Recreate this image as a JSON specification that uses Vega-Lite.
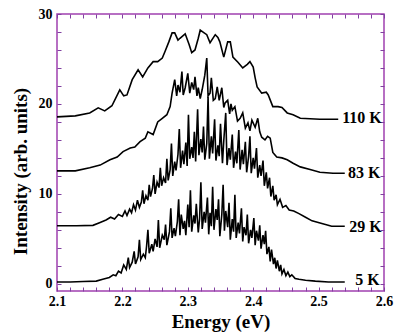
{
  "$schema": "https://vega.github.io/schema/vega-lite/v6.json",
  "autosize": "none",
  "width": 327,
  "height": 277,
  "padding": {"left": 57, "top": 14, "right": 12, "bottom": 43},
  "background": "white",
  "config": {
    "view": {"stroke": "#a040b0", "strokeWidth": 1.5},
    "axis": {
      "domain": false, "grid": false,
      "labelFont": "Liberation Serif", "labelFontWeight": "bold", "labelFontSize": 14, "labelColor": "black",
      "titleFont": "Liberation Serif", "titleFontWeight": "bold", "titleFontSize": 19, "titleColor": "black",
      "tickColor": "#8040a0", "tickSize": -4, "tickWidth": 1,
      "labelOverlap": false, "labelBound": false, "labelFlush": false
    }
  },
  "datasets": {
    "labels": [
      {"e": 2.536, "i": 18.4, "t": "110 K"},
      {"e": 2.545, "i": 12.3, "t": "83 K"},
      {"e": 2.547, "i": 6.3, "t": "29 K"},
      {"e": 2.556, "i": 0.4, "t": "5 K"}
    ]
  },
  "data": {"values": [
    {"e":2.100,"i":18.56,"t":"110 K"},{"e":2.128,"i":18.67,"t":"110 K"},{"e":2.150,"i":19.0,"t":"110 K"},{"e":2.163,"i":19.56,"t":"110 K"},{"e":2.173,"i":19.22,"t":"110 K"},{"e":2.184,"i":19.8,"t":"110 K"},{"e":2.196,"i":21.56,"t":"110 K"},{"e":2.202,"i":20.9,"t":"110 K"},{"e":2.207,"i":21.0,"t":"110 K"},{"e":2.215,"i":22.7,"t":"110 K"},{"e":2.224,"i":23.8,"t":"110 K"},{"e":2.231,"i":23.0,"t":"110 K"},{"e":2.239,"i":24.0,"t":"110 K"},{"e":2.247,"i":24.7,"t":"110 K"},{"e":2.254,"i":24.7,"t":"110 K"},{"e":2.261,"i":25.1,"t":"110 K"},{"e":2.265,"i":25.8,"t":"110 K"},{"e":2.271,"i":26.9,"t":"110 K"},{"e":2.276,"i":27.9,"t":"110 K"},{"e":2.280,"i":27.9,"t":"110 K"},{"e":2.285,"i":27.1,"t":"110 K"},{"e":2.288,"i":27.3,"t":"110 K"},{"e":2.296,"i":27.8,"t":"110 K"},{"e":2.302,"i":26.6,"t":"110 K"},{"e":2.306,"i":25.7,"t":"110 K"},{"e":2.311,"i":26.0,"t":"110 K"},{"e":2.316,"i":27.3,"t":"110 K"},{"e":2.319,"i":28.2,"t":"110 K"},{"e":2.325,"i":27.9,"t":"110 K"},{"e":2.329,"i":27.7,"t":"110 K"},{"e":2.334,"i":26.8,"t":"110 K"},{"e":2.342,"i":27.7,"t":"110 K"},{"e":2.346,"i":27.4,"t":"110 K"},{"e":2.349,"i":26.9,"t":"110 K"},{"e":2.355,"i":25.2,"t":"110 K"},{"e":2.361,"i":26.9,"t":"110 K"},{"e":2.365,"i":26.9,"t":"110 K"},{"e":2.369,"i":25.2,"t":"110 K"},{"e":2.377,"i":24.6,"t":"110 K"},{"e":2.384,"i":24.0,"t":"110 K"},{"e":2.391,"i":24.4,"t":"110 K"},{"e":2.395,"i":24.7,"t":"110 K"},{"e":2.400,"i":24.1,"t":"110 K"},{"e":2.403,"i":22.9,"t":"110 K"},{"e":2.406,"i":21.9,"t":"110 K"},{"e":2.413,"i":21.2,"t":"110 K"},{"e":2.420,"i":21.3,"t":"110 K"},{"e":2.423,"i":21.0,"t":"110 K"},{"e":2.430,"i":19.7,"t":"110 K"},{"e":2.438,"i":19.7,"t":"110 K"},{"e":2.444,"i":19.6,"t":"110 K"},{"e":2.452,"i":19.0,"t":"110 K"},{"e":2.461,"i":18.8,"t":"110 K"},{"e":2.472,"i":18.4,"t":"110 K"},{"e":2.502,"i":18.3,"t":"110 K"},{"e":2.530,"i":18.3,"t":"110 K"},

    {"e":2.100,"i":12.56,"t":"83 K"},{"e":2.128,"i":12.56,"t":"83 K"},{"e":2.150,"i":12.9,"t":"83 K"},{"e":2.166,"i":13.2,"t":"83 K"},{"e":2.181,"i":13.8,"t":"83 K"},{"e":2.192,"i":14.1,"t":"83 K"},{"e":2.201,"i":14.7,"t":"83 K"},{"e":2.212,"i":15.1,"t":"83 K"},{"e":2.219,"i":15.2,"t":"83 K"},{"e":2.227,"i":15.8,"t":"83 K"},{"e":2.235,"i":16.2,"t":"83 K"},{"e":2.239,"i":16.9,"t":"83 K"},{"e":2.247,"i":16.6,"t":"83 K"},{"e":2.254,"i":18.0,"t":"83 K"},{"e":2.261,"i":18.4,"t":"83 K"},{"e":2.268,"i":18.8,"t":"83 K"},{"e":2.273,"i":19.7,"t":"83 K"},{"e":2.276,"i":21.2,"t":"83 K"},{"e":2.280,"i":22.7,"t":"83 K"},{"e":2.283,"i":20.9,"t":"83 K"},{"e":2.285,"i":22.1,"t":"83 K"},{"e":2.288,"i":21.3,"t":"83 K"},{"e":2.291,"i":23.6,"t":"83 K"},{"e":2.293,"i":21.0,"t":"83 K"},{"e":2.296,"i":21.8,"t":"83 K"},{"e":2.300,"i":23.4,"t":"83 K"},{"e":2.303,"i":21.2,"t":"83 K"},{"e":2.306,"i":22.4,"t":"83 K"},{"e":2.309,"i":21.6,"t":"83 K"},{"e":2.311,"i":23.0,"t":"83 K"},{"e":2.314,"i":20.9,"t":"83 K"},{"e":2.316,"i":21.8,"t":"83 K"},{"e":2.319,"i":20.6,"t":"83 K"},{"e":2.322,"i":21.6,"t":"83 K"},{"e":2.326,"i":23.2,"t":"83 K"},{"e":2.329,"i":25.1,"t":"83 K"},{"e":2.331,"i":20.9,"t":"83 K"},{"e":2.334,"i":21.2,"t":"83 K"},{"e":2.336,"i":22.9,"t":"83 K"},{"e":2.339,"i":20.4,"t":"83 K"},{"e":2.342,"i":20.6,"t":"83 K"},{"e":2.345,"i":21.9,"t":"83 K"},{"e":2.348,"i":20.4,"t":"83 K"},{"e":2.352,"i":21.8,"t":"83 K"},{"e":2.355,"i":19.6,"t":"83 K"},{"e":2.357,"i":20.1,"t":"83 K"},{"e":2.361,"i":20.4,"t":"83 K"},{"e":2.364,"i":18.9,"t":"83 K"},{"e":2.366,"i":20.0,"t":"83 K"},{"e":2.368,"i":19.3,"t":"83 K"},{"e":2.372,"i":19.7,"t":"83 K"},{"e":2.376,"i":18.1,"t":"83 K"},{"e":2.380,"i":18.4,"t":"83 K"},{"e":2.384,"i":19.0,"t":"83 K"},{"e":2.388,"i":17.3,"t":"83 K"},{"e":2.392,"i":17.9,"t":"83 K"},{"e":2.395,"i":17.0,"t":"83 K"},{"e":2.398,"i":18.2,"t":"83 K"},{"e":2.403,"i":17.4,"t":"83 K"},{"e":2.407,"i":18.4,"t":"83 K"},{"e":2.410,"i":16.9,"t":"83 K"},{"e":2.413,"i":16.3,"t":"83 K"},{"e":2.418,"i":16.0,"t":"83 K"},{"e":2.422,"i":16.4,"t":"83 K"},{"e":2.426,"i":16.2,"t":"83 K"},{"e":2.430,"i":14.6,"t":"83 K"},{"e":2.436,"i":14.1,"t":"83 K"},{"e":2.444,"i":14.0,"t":"83 K"},{"e":2.452,"i":13.8,"t":"83 K"},{"e":2.461,"i":13.4,"t":"83 K"},{"e":2.472,"i":13.0,"t":"83 K"},{"e":2.487,"i":12.7,"t":"83 K"},{"e":2.502,"i":12.4,"t":"83 K"},{"e":2.522,"i":12.3,"t":"83 K"},{"e":2.540,"i":12.3,"t":"83 K"},

    {"e":2.100,"i":6.45,"t":"29 K"},{"e":2.130,"i":6.45,"t":"29 K"},{"e":2.155,"i":6.5,"t":"29 K"},{"e":2.165,"i":6.8,"t":"29 K"},{"e":2.175,"i":7.1,"t":"29 K"},{"e":2.182,"i":7.4,"t":"29 K"},{"e":2.188,"i":7.2,"t":"29 K"},{"e":2.194,"i":7.7,"t":"29 K"},{"e":2.200,"i":7.5,"t":"29 K"},{"e":2.204,"i":8.1,"t":"29 K"},{"e":2.207,"i":7.6,"t":"29 K"},{"e":2.211,"i":8.3,"t":"29 K"},{"e":2.214,"i":7.9,"t":"29 K"},{"e":2.217,"i":8.8,"t":"29 K"},{"e":2.220,"i":8.2,"t":"29 K"},{"e":2.223,"i":9.3,"t":"29 K"},{"e":2.226,"i":8.5,"t":"29 K"},{"e":2.229,"i":9.1,"t":"29 K"},{"e":2.231,"i":10.4,"t":"29 K"},{"e":2.233,"i":8.9,"t":"29 K"},{"e":2.236,"i":9.8,"t":"29 K"},{"e":2.239,"i":9.3,"t":"29 K"},{"e":2.241,"i":11.0,"t":"29 K"},{"e":2.243,"i":9.7,"t":"29 K"},{"e":2.246,"i":10.6,"t":"29 K"},{"e":2.248,"i":12.1,"t":"29 K"},{"e":2.250,"i":10.0,"t":"29 K"},{"e":2.253,"i":11.3,"t":"29 K"},{"e":2.256,"i":10.7,"t":"29 K"},{"e":2.258,"i":12.9,"t":"29 K"},{"e":2.260,"i":10.9,"t":"29 K"},{"e":2.263,"i":11.8,"t":"29 K"},{"e":2.266,"i":11.2,"t":"29 K"},{"e":2.268,"i":13.9,"t":"29 K"},{"e":2.270,"i":11.5,"t":"29 K"},{"e":2.273,"i":12.7,"t":"29 K"},{"e":2.275,"i":15.6,"t":"29 K"},{"e":2.277,"i":12.0,"t":"29 K"},{"e":2.280,"i":13.6,"t":"29 K"},{"e":2.282,"i":12.6,"t":"29 K"},{"e":2.285,"i":14.4,"t":"29 K"},{"e":2.287,"i":17.2,"t":"29 K"},{"e":2.289,"i":12.9,"t":"29 K"},{"e":2.292,"i":14.8,"t":"29 K"},{"e":2.294,"i":13.3,"t":"29 K"},{"e":2.297,"i":15.7,"t":"29 K"},{"e":2.299,"i":13.1,"t":"29 K"},{"e":2.301,"i":18.8,"t":"29 K"},{"e":2.303,"i":13.9,"t":"29 K"},{"e":2.306,"i":15.2,"t":"29 K"},{"e":2.308,"i":14.0,"t":"29 K"},{"e":2.310,"i":16.9,"t":"29 K"},{"e":2.312,"i":13.6,"t":"29 K"},{"e":2.315,"i":19.4,"t":"29 K"},{"e":2.317,"i":14.3,"t":"29 K"},{"e":2.320,"i":16.1,"t":"29 K"},{"e":2.322,"i":14.6,"t":"29 K"},{"e":2.324,"i":17.5,"t":"29 K"},{"e":2.326,"i":13.8,"t":"29 K"},{"e":2.329,"i":15.6,"t":"29 K"},{"e":2.331,"i":20.8,"t":"29 K"},{"e":2.333,"i":13.9,"t":"29 K"},{"e":2.336,"i":16.4,"t":"29 K"},{"e":2.338,"i":14.5,"t":"29 K"},{"e":2.341,"i":18.3,"t":"29 K"},{"e":2.343,"i":13.7,"t":"29 K"},{"e":2.346,"i":15.4,"t":"29 K"},{"e":2.348,"i":14.2,"t":"29 K"},{"e":2.350,"i":17.8,"t":"29 K"},{"e":2.353,"i":13.4,"t":"29 K"},{"e":2.355,"i":15.9,"t":"29 K"},{"e":2.358,"i":19.0,"t":"29 K"},{"e":2.360,"i":13.2,"t":"29 K"},{"e":2.363,"i":15.1,"t":"29 K"},{"e":2.365,"i":13.8,"t":"29 K"},{"e":2.368,"i":16.6,"t":"29 K"},{"e":2.370,"i":12.9,"t":"29 K"},{"e":2.373,"i":14.7,"t":"29 K"},{"e":2.375,"i":13.4,"t":"29 K"},{"e":2.378,"i":17.1,"t":"29 K"},{"e":2.380,"i":12.7,"t":"29 K"},{"e":2.383,"i":14.9,"t":"29 K"},{"e":2.385,"i":13.3,"t":"29 K"},{"e":2.388,"i":15.8,"t":"29 K"},{"e":2.390,"i":12.4,"t":"29 K"},{"e":2.393,"i":14.2,"t":"29 K"},{"e":2.395,"i":16.4,"t":"29 K"},{"e":2.397,"i":12.3,"t":"29 K"},{"e":2.400,"i":14.0,"t":"29 K"},{"e":2.402,"i":12.8,"t":"29 K"},{"e":2.405,"i":15.1,"t":"29 K"},{"e":2.407,"i":11.8,"t":"29 K"},{"e":2.410,"i":13.2,"t":"29 K"},{"e":2.412,"i":12.0,"t":"29 K"},{"e":2.415,"i":13.7,"t":"29 K"},{"e":2.417,"i":10.9,"t":"29 K"},{"e":2.420,"i":12.4,"t":"29 K"},{"e":2.422,"i":10.6,"t":"29 K"},{"e":2.425,"i":11.8,"t":"29 K"},{"e":2.427,"i":9.7,"t":"29 K"},{"e":2.430,"i":10.9,"t":"29 K"},{"e":2.432,"i":9.3,"t":"29 K"},{"e":2.435,"i":9.9,"t":"29 K"},{"e":2.437,"i":8.8,"t":"29 K"},{"e":2.441,"i":9.4,"t":"29 K"},{"e":2.445,"i":8.5,"t":"29 K"},{"e":2.450,"i":8.7,"t":"29 K"},{"e":2.455,"i":8.2,"t":"29 K"},{"e":2.462,"i":8.1,"t":"29 K"},{"e":2.470,"i":7.8,"t":"29 K"},{"e":2.480,"i":7.4,"t":"29 K"},{"e":2.490,"i":7.0,"t":"29 K"},{"e":2.505,"i":6.7,"t":"29 K"},{"e":2.520,"i":6.4,"t":"29 K"},{"e":2.540,"i":6.4,"t":"29 K"},

    {"e":2.100,"i":0.2,"t":"5 K"},{"e":2.120,"i":0.2,"t":"5 K"},{"e":2.140,"i":0.25,"t":"5 K"},{"e":2.160,"i":0.3,"t":"5 K"},{"e":2.170,"i":0.5,"t":"5 K"},{"e":2.180,"i":0.7,"t":"5 K"},{"e":2.186,"i":1.0,"t":"5 K"},{"e":2.190,"i":0.9,"t":"5 K"},{"e":2.194,"i":1.4,"t":"5 K"},{"e":2.198,"i":1.2,"t":"5 K"},{"e":2.202,"i":2.1,"t":"5 K"},{"e":2.206,"i":1.6,"t":"5 K"},{"e":2.209,"i":2.9,"t":"5 K"},{"e":2.211,"i":1.8,"t":"5 K"},{"e":2.215,"i":2.4,"t":"5 K"},{"e":2.218,"i":3.6,"t":"5 K"},{"e":2.220,"i":2.2,"t":"5 K"},{"e":2.224,"i":3.0,"t":"5 K"},{"e":2.226,"i":4.9,"t":"5 K"},{"e":2.228,"i":2.7,"t":"5 K"},{"e":2.232,"i":3.3,"t":"5 K"},{"e":2.235,"i":2.9,"t":"5 K"},{"e":2.237,"i":4.2,"t":"5 K"},{"e":2.239,"i":6.0,"t":"5 K"},{"e":2.241,"i":3.4,"t":"5 K"},{"e":2.245,"i":4.4,"t":"5 K"},{"e":2.247,"i":3.6,"t":"5 K"},{"e":2.250,"i":5.0,"t":"5 K"},{"e":2.253,"i":4.1,"t":"5 K"},{"e":2.255,"i":7.1,"t":"5 K"},{"e":2.257,"i":4.0,"t":"5 K"},{"e":2.261,"i":5.4,"t":"5 K"},{"e":2.264,"i":4.9,"t":"5 K"},{"e":2.266,"i":6.6,"t":"5 K"},{"e":2.268,"i":4.3,"t":"5 K"},{"e":2.272,"i":5.8,"t":"5 K"},{"e":2.274,"i":8.4,"t":"5 K"},{"e":2.276,"i":5.1,"t":"5 K"},{"e":2.279,"i":6.2,"t":"5 K"},{"e":2.281,"i":5.3,"t":"5 K"},{"e":2.284,"i":6.9,"t":"5 K"},{"e":2.286,"i":9.4,"t":"5 K"},{"e":2.288,"i":5.4,"t":"5 K"},{"e":2.290,"i":7.7,"t":"5 K"},{"e":2.293,"i":6.1,"t":"5 K"},{"e":2.295,"i":7.0,"t":"5 K"},{"e":2.297,"i":5.4,"t":"5 K"},{"e":2.300,"i":8.8,"t":"5 K"},{"e":2.302,"i":6.3,"t":"5 K"},{"e":2.304,"i":10.4,"t":"5 K"},{"e":2.306,"i":5.8,"t":"5 K"},{"e":2.309,"i":7.6,"t":"5 K"},{"e":2.311,"i":6.7,"t":"5 K"},{"e":2.313,"i":8.9,"t":"5 K"},{"e":2.316,"i":5.7,"t":"5 K"},{"e":2.318,"i":7.2,"t":"5 K"},{"e":2.320,"i":11.3,"t":"5 K"},{"e":2.322,"i":6.1,"t":"5 K"},{"e":2.325,"i":8.0,"t":"5 K"},{"e":2.327,"i":6.8,"t":"5 K"},{"e":2.330,"i":9.6,"t":"5 K"},{"e":2.332,"i":5.5,"t":"5 K"},{"e":2.334,"i":7.9,"t":"5 K"},{"e":2.336,"i":6.4,"t":"5 K"},{"e":2.338,"i":10.8,"t":"5 K"},{"e":2.340,"i":6.0,"t":"5 K"},{"e":2.343,"i":8.3,"t":"5 K"},{"e":2.345,"i":7.1,"t":"5 K"},{"e":2.347,"i":9.4,"t":"5 K"},{"e":2.349,"i":5.3,"t":"5 K"},{"e":2.352,"i":7.7,"t":"5 K"},{"e":2.354,"i":11.0,"t":"5 K"},{"e":2.356,"i":5.9,"t":"5 K"},{"e":2.358,"i":8.1,"t":"5 K"},{"e":2.361,"i":6.3,"t":"5 K"},{"e":2.363,"i":9.0,"t":"5 K"},{"e":2.365,"i":4.9,"t":"5 K"},{"e":2.368,"i":7.2,"t":"5 K"},{"e":2.370,"i":5.8,"t":"5 K"},{"e":2.372,"i":9.9,"t":"5 K"},{"e":2.374,"i":5.1,"t":"5 K"},{"e":2.377,"i":6.8,"t":"5 K"},{"e":2.379,"i":5.6,"t":"5 K"},{"e":2.382,"i":8.4,"t":"5 K"},{"e":2.384,"i":4.7,"t":"5 K"},{"e":2.386,"i":6.3,"t":"5 K"},{"e":2.389,"i":5.4,"t":"5 K"},{"e":2.391,"i":7.7,"t":"5 K"},{"e":2.393,"i":4.5,"t":"5 K"},{"e":2.396,"i":6.0,"t":"5 K"},{"e":2.398,"i":5.1,"t":"5 K"},{"e":2.401,"i":7.3,"t":"5 K"},{"e":2.403,"i":4.3,"t":"5 K"},{"e":2.405,"i":5.9,"t":"5 K"},{"e":2.408,"i":4.8,"t":"5 K"},{"e":2.410,"i":6.5,"t":"5 K"},{"e":2.412,"i":3.9,"t":"5 K"},{"e":2.415,"i":5.4,"t":"5 K"},{"e":2.417,"i":4.4,"t":"5 K"},{"e":2.419,"i":5.9,"t":"5 K"},{"e":2.421,"i":3.3,"t":"5 K"},{"e":2.424,"i":4.1,"t":"5 K"},{"e":2.426,"i":2.5,"t":"5 K"},{"e":2.428,"i":3.8,"t":"5 K"},{"e":2.431,"i":2.2,"t":"5 K"},{"e":2.433,"i":2.9,"t":"5 K"},{"e":2.435,"i":1.7,"t":"5 K"},{"e":2.437,"i":2.6,"t":"5 K"},{"e":2.440,"i":1.4,"t":"5 K"},{"e":2.442,"i":2.1,"t":"5 K"},{"e":2.444,"i":1.1,"t":"5 K"},{"e":2.447,"i":1.6,"t":"5 K"},{"e":2.450,"i":0.9,"t":"5 K"},{"e":2.453,"i":1.3,"t":"5 K"},{"e":2.456,"i":0.8,"t":"5 K"},{"e":2.459,"i":1.0,"t":"5 K"},{"e":2.464,"i":0.6,"t":"5 K"},{"e":2.470,"i":0.5,"t":"5 K"},{"e":2.480,"i":0.4,"t":"5 K"},{"e":2.495,"i":0.3,"t":"5 K"},{"e":2.515,"i":0.2,"t":"5 K"},{"e":2.540,"i":0.2,"t":"5 K"}
  ]},
  "layer": [
    {
      "mark": {"type": "line", "color": "black", "strokeWidth": 1.6, "strokeJoin": "miter"},
      "encoding": {
        "x": {"field": "e", "type": "quantitative",
          "scale": {"domain": [2.1, 2.6], "nice": false, "zero": false},
          "axis": {"orient": "bottom", "title": "Energy (eV)", "titleY": 30, "titleBaseline": "middle",
            "values": [2.1,2.12,2.14,2.16,2.18,2.2,2.22,2.24,2.26,2.28,2.3,2.32,2.34,2.36,2.38,2.4,2.42,2.44,2.46,2.48,2.5,2.52,2.54,2.56,2.58,2.6],
            "labelExpr": "abs(datum.value*10 - round(datum.value*10)) < 0.001 ? format(datum.value, '.1f') : ''",
            "labelPadding": 7}},
        "y": {"field": "i", "type": "quantitative",
          "scale": {"domain": [-0.8, 30], "nice": false, "zero": false},
          "axis": {"orient": "left", "title": "Intensity (arb. units)", "titleAngle": 270, "titleX": -37, "titleY": 157, "titleAlign": "center", "titleBaseline": "middle",
            "values": [0,2,4,6,8,10,12,14,16,18,20,22,24,26,28,30],
            "labelExpr": "datum.value % 10 == 0 ? datum.label : ''",
            "labelPadding": 9}},
        "detail": {"field": "t", "type": "nominal"}
      }
    },
    {
      "data": {"name": "labels"},
      "mark": {"type": "text", "align": "left", "baseline": "middle", "font": "Liberation Serif", "fontWeight": "bold", "fontSize": 16, "color": "black"},
      "encoding": {
        "x": {"field": "e", "type": "quantitative",
          "axis": {"orient": "top", "title": null, "labels": false,
            "values": [2.1,2.12,2.14,2.16,2.18,2.2,2.22,2.24,2.26,2.28,2.3,2.32,2.34,2.36,2.38,2.4,2.42,2.44,2.46,2.48,2.5,2.52,2.54,2.56,2.58,2.6]}},
        "y": {"field": "i", "type": "quantitative",
          "axis": {"orient": "right", "title": null, "labels": false,
            "values": [0,2,4,6,8,10,12,14,16,18,20,22,24,26,28,30]}},
        "text": {"field": "t", "type": "nominal"}
      }
    }
  ],
  "resolve": {"axis": {"x": "independent", "y": "independent"}}
}
